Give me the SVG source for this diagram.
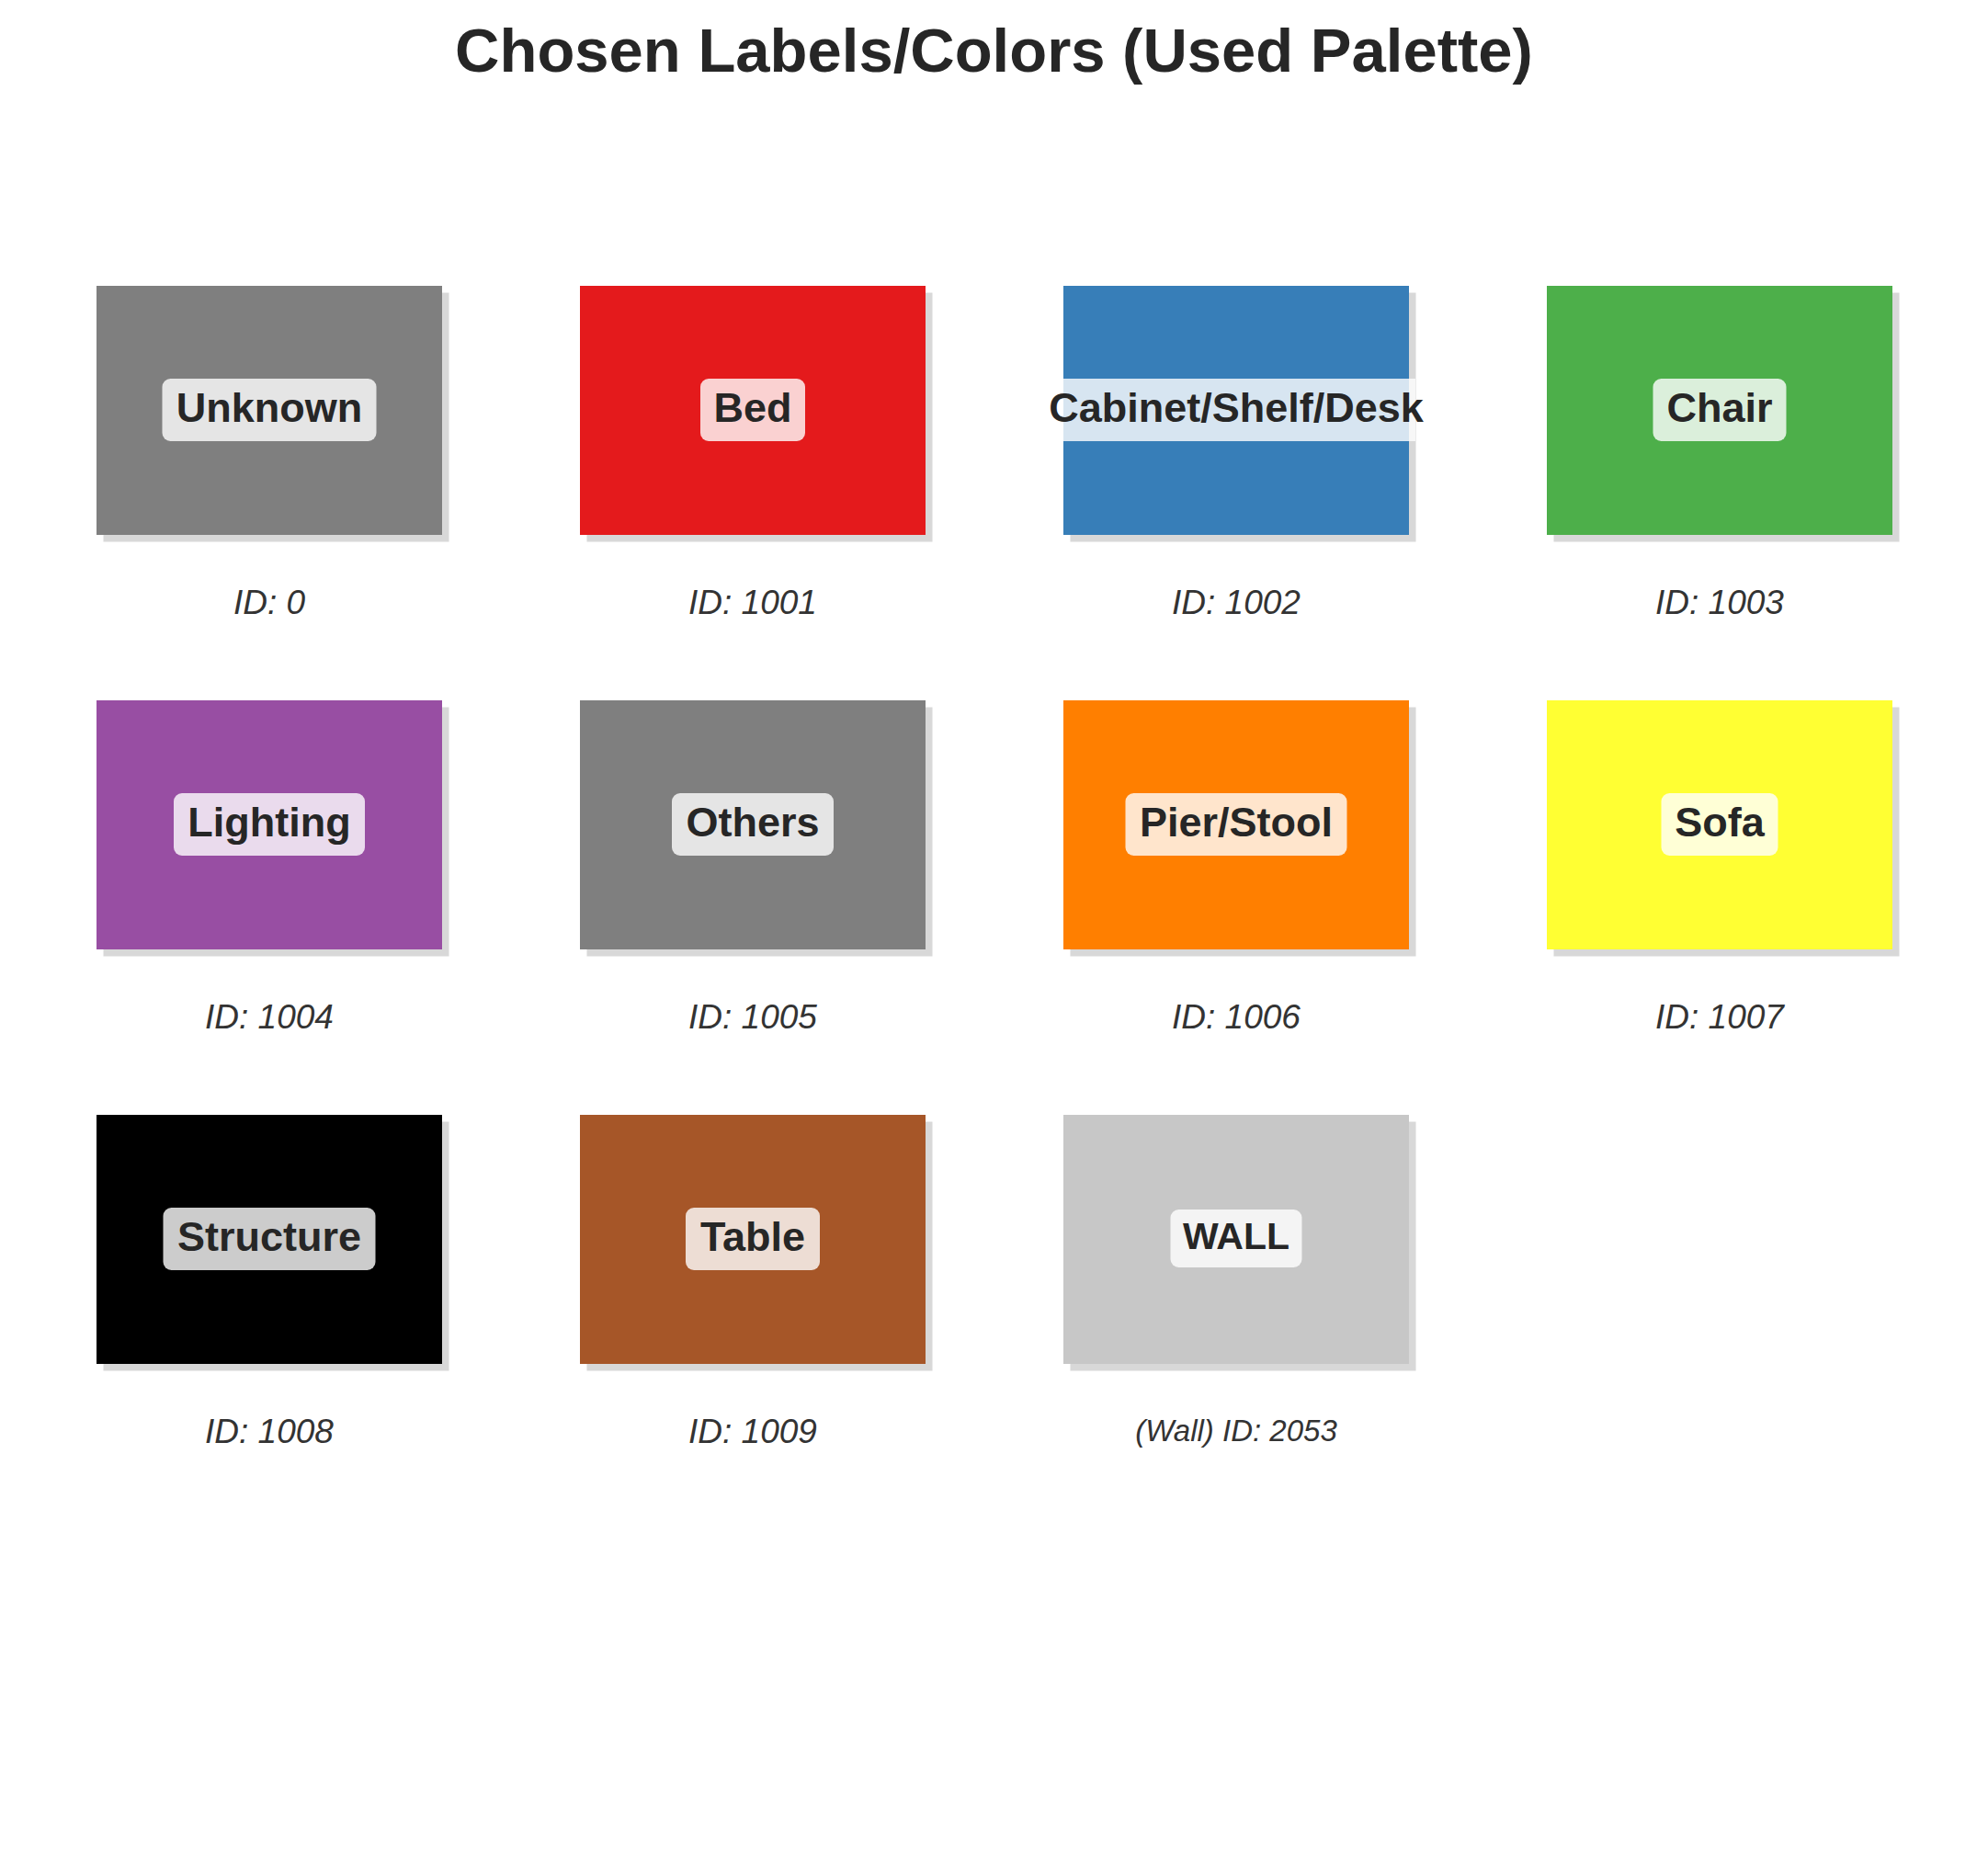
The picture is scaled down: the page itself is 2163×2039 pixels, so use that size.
<svg xmlns="http://www.w3.org/2000/svg" width="2163" height="2039" viewBox="0 0 2163 2039">
<defs>
<style>
.title{font-family:"Liberation Sans",Arial,sans-serif;font-weight:bold;font-size:67px;fill:#262626;text-anchor:middle}
.shadow{fill:#d8d8d8}
.lbox{fill:#ffffff;fill-opacity:0.8}
.lbl{font-family:"Liberation Sans",Arial,sans-serif;font-weight:bold;font-size:45px;fill:#262626;text-anchor:middle}
.id{font-family:"Liberation Sans",Arial,sans-serif;font-style:italic;font-size:37px;fill:#333333;text-anchor:middle}
</style>
</defs>
<rect width="2163" height="2039" fill="#ffffff"/>
<text class="title" x="1081.5" y="78">Chosen Labels/Colors (Used Palette)</text>
<g id="connectors"/>

<g id="node-unknown">
<rect class="shadow" x="112.5" y="318.5" width="376" height="271"/>
<rect x="105" y="311" width="376" height="271" fill="#7f7f7f"/>
<rect class="lbox" x="176.5" y="412" width="233" height="68" rx="9"/>
<text class="lbl" x="293" y="459">Unknown</text>
<text class="id" x="293" y="668">ID: 0</text>
</g>

<g id="node-bed">
<rect class="shadow" x="638.5" y="318.5" width="376" height="271"/>
<rect x="631" y="311" width="376" height="271" fill="#e41a1c"/>
<rect class="lbox" x="762" y="412" width="114" height="68" rx="9"/>
<text class="lbl" x="819" y="459">Bed</text>
<text class="id" x="819" y="668">ID: 1001</text>
</g>

<g id="node-cabinet">
<rect class="shadow" x="1164.5" y="318.5" width="376" height="271"/>
<rect x="1157" y="311" width="376" height="271" fill="#377eb8"/>
<rect class="lbox" x="1157" y="412" width="383" height="68"/>
<text class="lbl" x="1345" y="459">Cabinet/Shelf/Desk</text>
<text class="id" x="1345" y="668">ID: 1002</text>
</g>

<g id="node-chair">
<rect class="shadow" x="1690.5" y="318.5" width="376" height="271"/>
<rect x="1683" y="311" width="376" height="271" fill="#4daf4a"/>
<rect class="lbox" x="1798.5" y="412" width="145" height="68" rx="9"/>
<text class="lbl" x="1871" y="459">Chair</text>
<text class="id" x="1871" y="668">ID: 1003</text>
</g>

<g id="node-lighting">
<rect class="shadow" x="112.5" y="769.5" width="376" height="271"/>
<rect x="105" y="762" width="376" height="271" fill="#984ea3"/>
<rect class="lbox" x="189" y="863" width="208" height="68" rx="9"/>
<text class="lbl" x="293" y="910">Lighting</text>
<text class="id" x="293" y="1119">ID: 1004</text>
</g>

<g id="node-others">
<rect class="shadow" x="638.5" y="769.5" width="376" height="271"/>
<rect x="631" y="762" width="376" height="271" fill="#7f7f7f"/>
<rect class="lbox" x="731" y="863" width="176" height="68" rx="9"/>
<text class="lbl" x="819" y="910">Others</text>
<text class="id" x="819" y="1119">ID: 1005</text>
</g>

<g id="node-pier-stool">
<rect class="shadow" x="1164.5" y="769.5" width="376" height="271"/>
<rect x="1157" y="762" width="376" height="271" fill="#ff7f00"/>
<rect class="lbox" x="1224.5" y="863" width="241" height="68" rx="9"/>
<text class="lbl" x="1345" y="910">Pier/Stool</text>
<text class="id" x="1345" y="1119">ID: 1006</text>
</g>

<g id="node-sofa">
<rect class="shadow" x="1690.5" y="769.5" width="376" height="271"/>
<rect x="1683" y="762" width="376" height="271" fill="#ffff33"/>
<rect class="lbox" x="1807.5" y="863" width="127" height="68" rx="9"/>
<text class="lbl" x="1871" y="910">Sofa</text>
<text class="id" x="1871" y="1119">ID: 1007</text>
</g>

<g id="node-structure">
<rect class="shadow" x="112.5" y="1220.5" width="376" height="271"/>
<rect x="105" y="1213" width="376" height="271" fill="#000000"/>
<rect class="lbox" x="177.5" y="1314" width="231" height="68" rx="9"/>
<text class="lbl" x="293" y="1361">Structure</text>
<text class="id" x="293" y="1570">ID: 1008</text>
</g>

<g id="node-table">
<rect class="shadow" x="638.5" y="1220.5" width="376" height="271"/>
<rect x="631" y="1213" width="376" height="271" fill="#a65628"/>
<rect class="lbox" x="746" y="1314" width="146" height="68" rx="9"/>
<text class="lbl" x="819" y="1361">Table</text>
<text class="id" x="819" y="1570">ID: 1009</text>
</g>

<g id="node-wall">
<rect class="shadow" x="1164.5" y="1220.5" width="376" height="271"/>
<rect x="1157" y="1213" width="376" height="271" fill="#c7c7c7"/>
<rect class="lbox" x="1273.5" y="1316" width="143" height="63" rx="9"/>
<text class="lbl" x="1345" y="1359" style="font-size:41px">WALL</text>
<text class="id" x="1345" y="1568" style="font-size:33px">(Wall) ID: 2053</text>
</g>
</svg>
